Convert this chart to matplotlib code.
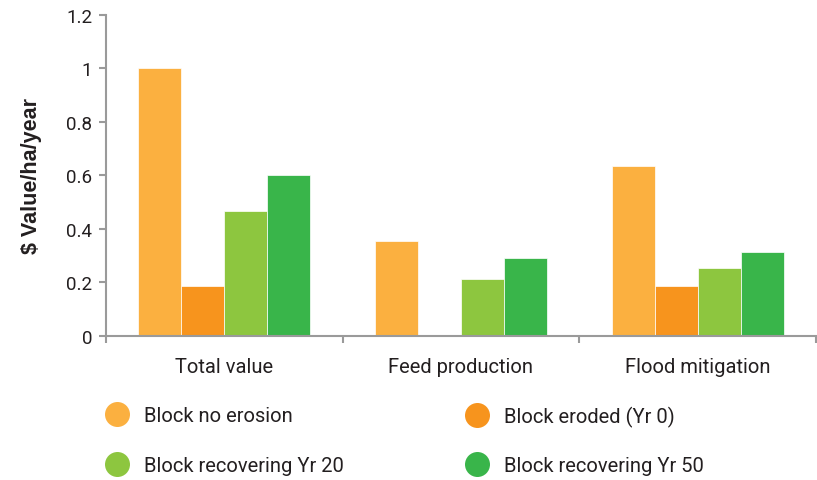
import matplotlib
matplotlib.use("Agg")
import matplotlib.pyplot as plt
from matplotlib.lines import Line2D
import numpy as np

categories = ["Total value", "Feed production", "Flood mitigation"]
series_names = ["Block no erosion", "Block eroded (Yr 0)",
                "Block recovering Yr 20", "Block recovering Yr 50"]
no_erosion = [1.0, 0.355, 0.636]
eroded = [0.187, 0.0, 0.187]
recovering_20 = [0.467, 0.212, 0.254]
recovering_50 = [0.601, 0.29, 0.313]
yticks = [0, 0.2, 0.4, 0.6, 0.8, 1, 1.2]
ytick_labels = ["0", "0.2", "0.4", "0.6", "0.8", "1", "1.2"]

colors = ["#FBB040", "#F7941D", "#8DC63F", "#39B54A"]
series = [no_erosion, eroded, recovering_20, recovering_50]

plt.rcParams['font.family'] = ['Roboto', 'DejaVu Sans']
text_color = "#231F20"
axis_color = "#9a9a9a"

fig = plt.figure(figsize=(8.17, 4.81), dpi=100)
ax = fig.add_axes([106/817, 1-336.7/481, (816-106)/817, (336.7-16)/481])

x = np.arange(len(categories)) + 0.5
w = 0.182
for i, (vals, c) in enumerate(zip(series, colors)):
    ax.bar(x + (i - 1.5) * w, vals, width=w, color=c, edgecolor="white",
           linewidth=0.5, label=series_names[i], zorder=2)

ax.set_xlim(0, 3)
ax.set_ylim(0, 1.2)
ax.set_yticks(yticks)
ax.set_yticklabels(ytick_labels)
ax.set_xticks([0, 1, 2, 3])
ax.set_xticklabels([])
ax.set_xticks(x, minor=True)
ax.set_xticklabels(categories, minor=True)

for s in ["top", "right"]:
    ax.spines[s].set_visible(False)
for s in ["left", "bottom"]:
    ax.spines[s].set_color(axis_color)
    ax.spines[s].set_linewidth(1.5)

ax.tick_params(axis="y", which="major", direction="out", length=5, width=1.5,
               color=axis_color, labelsize=13.5, labelcolor=text_color, pad=5)
ax.tick_params(axis="x", which="major", direction="out", length=5, width=1.5,
               color=axis_color)
ax.tick_params(axis="x", which="minor", length=0, labelsize=14.5,
               labelcolor=text_color, pad=15)

ax.set_ylabel("$ Value/ha/year", family=["Liberation Sans", "DejaVu Sans"],
              fontweight="bold", fontsize=15.5, color=text_color, labelpad=17)

handles = [Line2D([], [], marker="o", linestyle="none", markersize=18,
                  markerfacecolor=c, markeredgewidth=0) for c in colors]

common = dict(frameon=False, handlelength=1.0, handletextpad=0.84,
              borderpad=0, borderaxespad=0, fontsize=14.5,
              labelcolor=text_color, loc="center left")
positions = [(107, 417), (467, 417), (107, 467), (467, 467)]
for h, name, (px, py) in zip(handles, series_names, positions):
    fig.legend([h], [name], bbox_to_anchor=(px/817, 1-py/481), **common)

fig.savefig("out.png", dpi=100)
